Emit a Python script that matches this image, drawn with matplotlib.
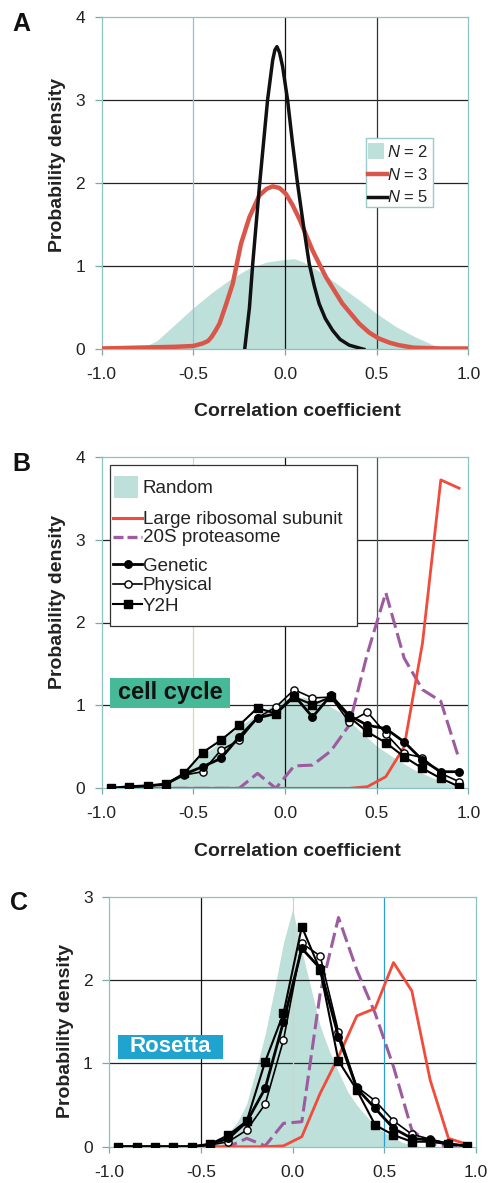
import matplotlib
matplotlib.use('Agg')
import matplotlib.pyplot as plt
from matplotlib.lines import Line2D
from matplotlib.patches import Rectangle

plt.rcParams['font.family'] = ['Liberation Sans', 'DejaVu Sans']
plt.rcParams['mathtext.fontset'] = 'custom'
plt.rcParams['mathtext.rm'] = 'Liberation Sans'
plt.rcParams['mathtext.it'] = 'Liberation Sans:italic'

# ---------------- data ----------------
x_ticks = [-1.0, -0.5, 0.0, 0.5, 1.0]
x_tick_labels = ['-1.0', '-0.5', '0.0', '0.5', '1.0']

# Panel A
a_n2_x = [-0.8, -0.7, -0.6, -0.5, -0.4, -0.3, -0.2, -0.1, 0.0, 0.05, 0.1, 0.2, 0.3, 0.4, 0.5, 0.6, 0.7, 0.8, 0.88]
a_n2_y = [0.0, 0.1, 0.3, 0.5, 0.68, 0.84, 0.97, 1.05, 1.08, 1.09, 1.05, 0.92, 0.76, 0.6, 0.43, 0.28, 0.16, 0.06, 0.0]
a_n3_x = [-1.0, -0.8, -0.6, -0.5, -0.45, -0.42, -0.4, -0.38, -0.357, -0.32, -0.285, -0.24, -0.194, -0.14, -0.1, -0.067,
          -0.03, 0.005, 0.04, 0.08, 0.15, 0.223, 0.313, 0.404, 0.46, 0.512, 0.57, 0.62, 0.7, 0.85, 1.0]
a_n3_y = [0.01, 0.02, 0.03, 0.04, 0.07, 0.1, 0.15, 0.22, 0.31, 0.55, 0.79, 1.27, 1.59, 1.85, 1.93, 1.96,
          1.94, 1.87, 1.74, 1.56, 1.19, 0.87, 0.55, 0.31, 0.2, 0.13, 0.08, 0.05, 0.02, 0.01, 0.01]
a_n5_x = [-0.22, -0.194, -0.176, -0.14, -0.095, -0.067, -0.055, -0.044, -0.03, -0.013, 0.014, 0.04, 0.068,
          0.1, 0.132, 0.16, 0.186, 0.22, 0.259, 0.3, 0.35, 0.43]
a_n5_y = [0.0, 0.5, 1.03, 1.95, 3.0, 3.48, 3.6, 3.64, 3.57, 3.4, 3.0, 2.5, 2.0,
          1.5, 1.03, 0.76, 0.55, 0.37, 0.23, 0.12, 0.05, 0.0]

# Panel B / C bins
bins = [-0.95, -0.85, -0.75, -0.65, -0.55, -0.45, -0.35, -0.25, -0.15, -0.05,
        0.05, 0.15, 0.25, 0.35, 0.45, 0.55, 0.65, 0.75, 0.85, 0.95]

b_random_x = [-0.75, -0.7, -0.6, -0.5, -0.4, -0.3, -0.2, -0.1, 0.0, 0.1, 0.2, 0.3, 0.4, 0.5, 0.6, 0.7, 0.8, 0.9, 0.97]
b_random_y = [0.0, 0.02, 0.13, 0.32, 0.48, 0.66, 0.82, 0.96, 1.08, 1.1, 1.04, 0.92, 0.71, 0.51, 0.36, 0.23, 0.13, 0.05, 0.0]
b_ribo = [0, 0, 0, 0, 0, 0, 0, 0, 0, 0, 0, 0, 0, 0, 0.02, 0.14, 0.5, 1.75, 3.72, 3.62]
b_20s = [0, 0, 0, 0, 0, 0, 0, 0.0, 0.18, 0.0, 0.27, 0.28, 0.45, 0.76, 1.63, 2.36, 1.57, 1.19, 1.05, 0.35]
b_genetic = [0, 0.02, 0.03, 0.05, 0.17, 0.26, 0.36, 0.62, 0.85, 0.9, 1.12, 0.86, 1.12, 0.88, 0.76, 0.72, 0.56, 0.34, 0.2, 0.2]
b_physical = [0, 0.02, 0.03, 0.05, 0.16, 0.2, 0.46, 0.58, 0.85, 0.98, 1.19, 1.09, 1.1, 0.8, 0.92, 0.66, 0.42, 0.37, 0.18, 0.08]
b_y2h = [0, 0.02, 0.03, 0.05, 0.18, 0.43, 0.58, 0.76, 0.97, 0.9, 1.1, 1.01, 1.1, 0.86, 0.68, 0.55, 0.38, 0.24, 0.12, 0.02]

c_random_x = [-0.45, -0.4, -0.35, -0.3, -0.25, -0.2, -0.15, -0.1, -0.05, 0.0, 0.05, 0.1, 0.15, 0.2, 0.25,
              0.3, 0.35, 0.4, 0.45, 0.5, 0.6, 0.7]
c_random_y = [0.0, 0.06, 0.16, 0.3, 0.52, 0.92, 1.35, 1.88, 2.45, 2.85, 2.35, 1.9, 1.45, 1.15, 0.9,
              0.66, 0.5, 0.37, 0.26, 0.17, 0.05, 0.0]
c_ribo = [0, 0, 0, 0, 0, 0, 0, 0, 0, 0.01, 0.12, 0.64, 1.08, 1.57, 1.66, 2.21, 1.87, 0.8, 0.1, 0.03]
c_20s = [0, 0, 0, 0, 0, 0, 0, 0.1, 0.01, 0.28, 0.3, 1.84, 2.75, 2.12, 1.6, 0.96, 0.2, 0.03, 0.01, 0.0]
c_genetic = [0, 0, 0, 0, 0, 0.03, 0.1, 0.3, 0.7, 1.5, 2.38, 2.14, 1.32, 0.7, 0.46, 0.22, 0.1, 0.08, 0.03, 0.01]
c_physical = [0, 0, 0, 0, 0, 0.02, 0.06, 0.2, 0.51, 1.28, 2.44, 2.29, 1.38, 0.72, 0.55, 0.31, 0.15, 0.09, 0.04, 0.01]
c_y2h = [0, 0, 0, 0, 0, 0.03, 0.14, 0.31, 1.02, 1.6, 2.64, 2.12, 1.03, 0.68, 0.26, 0.14, 0.06, 0.06, 0.03, 0.01]

# ---------------- style ----------------
FILL = '#bde0da'
RED_A = '#d9574a'
RED = '#f04b3b'
PURPLE = '#9c5c9f'
GRID = '#222222'
SPINE = '#8cc2c2'
TXT = '#222222'

W, H = 491, 1183
fig = plt.figure(figsize=(W / 100, H / 100), dpi=100)


def rect(l, r, t, b):
    return [l / W, (H - b) / H, (r - l) / W, (b - t) / H]


def P(px, py):
    return (px / W, 1 - py / H)


def style(ax, ymax, vcolors):
    ax.set_xlim(-1, 1)
    ax.set_ylim(0, ymax)
    ax.set_xticks(x_ticks)
    ax.set_xticklabels(x_tick_labels)
    ax.set_yticks(list(range(ymax + 1)))
    for s in ax.spines.values():
        s.set_color(SPINE)
        s.set_linewidth(0.9)
    ax.tick_params(axis='y', length=5, width=0.9, color='#7aa9a9', pad=7,
                   labelsize=12.5, labelcolor=TXT)
    ax.tick_params(axis='x', length=4, width=0.9, color='#7aa9a9', pad=9,
                   labelsize=12.5, labelcolor=TXT)
    for yv in range(1, ymax):
        ax.axhline(yv, color=GRID, lw=0.9, zorder=1.5)
    for xv, c in zip([-0.5, 0.0, 0.5], vcolors):
        ax.axvline(xv, color=c, lw=0.9, zorder=1.5)


def hline(ax, x1, x2, y, **kw):
    ax.add_line(Line2D([x1 / W, x2 / W], [1 - y / H, 1 - y / H], transform=fig.transFigure, **kw))


def marker_at(ax, x, y, **kw):
    ax.add_line(Line2D([x / W], [1 - y / H], transform=fig.transFigure, lw=0, **kw))


# ---------------- Panel A ----------------
axA = fig.add_axes(rect(101.7, 468.3, 16.7, 349.3))
style(axA, 4, ['#8fbfdc', '#111111', '#333333'])
axA.fill_between(a_n2_x, a_n2_y, 0, color=FILL, lw=0, zorder=1)
axA.plot(a_n3_x, a_n3_y, color=RED_A, lw=3.2, zorder=3, solid_capstyle='round', solid_joinstyle='round')
axA.plot(a_n5_x, a_n5_y, color='#111111', lw=2.5, zorder=4, solid_joinstyle='round')

axA.add_patch(Rectangle(P(366, 207), 67 / W, 69 / H, transform=fig.transFigure,
                        facecolor='white', edgecolor='#9cc9c9', lw=1.0, zorder=5))
axA.add_patch(Rectangle(P(368, 159), 16 / W, 16 / H, transform=fig.transFigure,
                        facecolor=FILL, edgecolor='none', zorder=6))
hline(axA, 368, 387, 174.3, color=RED_A, lw=3.2, zorder=6)
hline(axA, 368, 387, 196.7, color='#111111', lw=2.5, zorder=6)
for lab, yb in [(r'$N$ = 2', 157.3), (r'$N$ = 3', 180.0), (r'$N$ = 5', 202.3)]:
    fig.text(*P(387, yb), lab, fontsize=12, color=TXT, ha='left', va='baseline', zorder=7)

# ---------------- Panel B ----------------
axB = fig.add_axes(rect(101.7, 468.3, 456.7, 788.3))
style(axB, 4, ['#d8dca8', '#111111', '#3d5c5c'])
axB.fill_between(b_random_x, b_random_y, 0, color=FILL, lw=0, zorder=1)
axB.plot(bins, b_20s, color=PURPLE, lw=2.2, dashes=(5, 1.8), zorder=3)
axB.plot(bins, b_ribo, color=RED, lw=2.0, zorder=3.2)
axB.plot(bins, b_physical, color='black', lw=1.2, marker='o', ms=5.2, mfc='white', mec='black', mew=1.0, zorder=4)
axB.plot(bins, b_y2h, color='black', lw=1.5, marker='s', ms=5.2, mfc='black', mec='black', zorder=4.2)
axB.plot(bins, b_genetic, color='black', lw=2.0, marker='o', ms=5.4, mfc='black', mec='black', zorder=4.4)

axB.add_patch(Rectangle(P(110, 626), 247 / W, 161 / H, transform=fig.transFigure,
                        facecolor='white', edgecolor='#333333', lw=0.9, zorder=5))
axB.add_patch(Rectangle(P(114, 498), 24 / W, 22 / H, transform=fig.transFigure,
                        facecolor=FILL, edgecolor='none', zorder=6))
hline(axB, 113, 142, 518.3, color=RED, lw=2.2, zorder=6)
hline(axB, 113, 142, 536.7, color=PURPLE, lw=2.4, dashes=(3, 1.2), zorder=6)
hline(axB, 113, 142, 564, color='black', lw=2.0, zorder=6)
marker_at(axB, 127.5, 564, marker='o', ms=5.4, color='black', zorder=6.5)
hline(axB, 113, 142, 584, color='black', lw=1.2, zorder=6)
marker_at(axB, 127.5, 584, marker='o', ms=5.2, mfc='white', mec='black', mew=1.0, zorder=6.5)
hline(axB, 113, 142, 604, color='black', lw=1.5, zorder=6)
marker_at(axB, 127.5, 604, marker='s', ms=5.2, color='black', zorder=6.5)
for lab, yb in [('Random', 493.3), ('Large ribosomal subunit', 524.0), ('20S proteasome', 541.7),
                ('Genetic', 570.7), ('Physical', 590.0), ('Y2H', 610.7)]:
    fig.text(*P(143, yb), lab, fontsize=13.5, color=TXT, ha='left', va='baseline', zorder=7)

axB.add_patch(Rectangle(P(110, 708), 120 / W, 30 / H, transform=fig.transFigure,
                        facecolor='#46ba98', edgecolor='none', zorder=5))
fig.text(*P(170, 693), 'cell cycle', fontsize=17, fontweight='bold', color='#111111',
         ha='center', va='center', zorder=8)

# ---------------- Panel C ----------------
axC = fig.add_axes(rect(109.3, 476.0, 896.7, 1146.7))
style(axC, 3, ['#111111', '#e8c8c0', '#2a9fd0'])
axC.fill_between(c_random_x, c_random_y, 0, color=FILL, lw=0, zorder=1)
axC.plot(bins, c_20s, color=PURPLE, lw=2.2, dashes=(5, 1.8), zorder=3)
axC.plot(bins, c_ribo, color=RED, lw=2.0, zorder=3.2)
axC.plot(bins, c_physical, color='black', lw=1.2, marker='o', ms=5.2, mfc='white', mec='black', mew=1.0, zorder=4)
axC.plot(bins, c_y2h, color='black', lw=1.5, marker='s', ms=5.2, mfc='black', mec='black', zorder=4.2)
axC.plot(bins, c_genetic, color='black', lw=2.0, marker='o', ms=5.4, mfc='black', mec='black', zorder=4.4)

axC.add_patch(Rectangle(P(118, 1059), 105 / W, 24 / H, transform=fig.transFigure,
                        facecolor='#1fa3cf', edgecolor='none', zorder=5))
fig.text(*P(170.5, 1047), 'Rosetta', fontsize=16, fontweight='bold', color='white',
         ha='center', va='center', zorder=8)

# ---------------- labels ----------------
for xc, yc in [(57, 165), (57, 602), (65, 1031)]:
    fig.text(*P(xc, yc), 'Probability density', fontsize=14, fontweight='bold', color=TXT,
             rotation=90, ha='center', va='center')
for xc, yc in [(297, 412), (297.5, 851)]:
    fig.text(*P(xc, yc), 'Correlation coefficient', fontsize=14, fontweight='bold', color=TXT,
             ha='center', va='center')
for lab, xl, yc in [('A', 12, 24), ('B', 12, 464), ('C', 10, 903)]:
    fig.text(*P(xl, yc), lab, fontsize=18, fontweight='bold', color='#111111', ha='left', va='center')

fig.savefig('out.png', dpi=100)
